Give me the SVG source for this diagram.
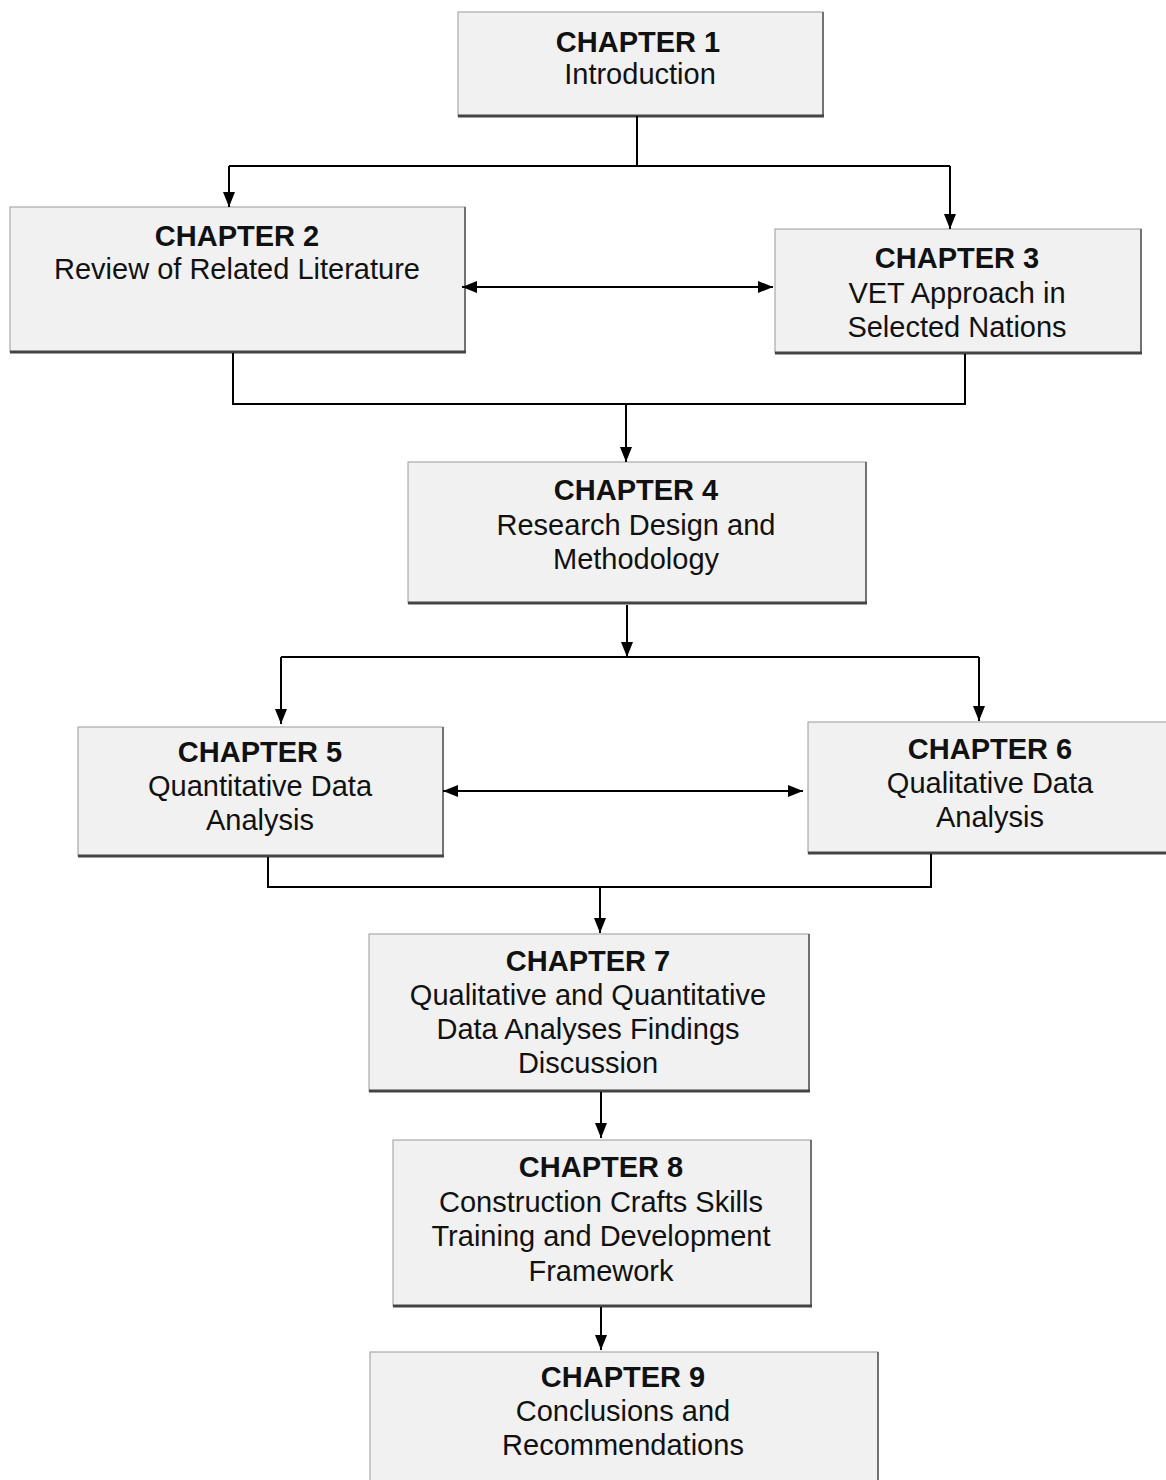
<svg xmlns="http://www.w3.org/2000/svg" width="1166" height="1480" viewBox="0 0 1166 1480">
<style>
.box{fill:#f1f1f1;stroke:#9a9a9a;stroke-width:1}
.sh{stroke:#444;stroke-width:3;fill:none}
.rs{stroke:#555;stroke-width:1.5;fill:none}
.t{font-family:"Liberation Sans",Arial,sans-serif;font-size:29px;fill:#111;text-anchor:middle}
.b{font-weight:bold}
.c{stroke:#000;stroke-width:2;fill:none}
</style>
<defs>
<marker id="ah" viewBox="0 0 15 12" refX="15" refY="6" markerWidth="15" markerHeight="12" markerUnits="userSpaceOnUse" orient="auto-start-reverse">
<path d="M0,0 L15,6 L0,12 Z" fill="#000"/>
</marker>
</defs>
<rect width="1166" height="1480" fill="#fff"/>
<g id="ch1">
<rect class="box" x="458" y="12" width="365" height="104"/>
<line class="rs" x1="823" y1="12" x2="823" y2="116"/>
<line class="sh" x1="458" y1="116" x2="824" y2="116"/>
<text class="t b" x="638" y="52">CHAPTER 1</text>
<text class="t" x="640" y="84">Introduction</text>
</g>
<g id="ch2">
<rect class="box" x="10" y="207" width="455" height="145"/>
<line class="rs" x1="465" y1="207" x2="465" y2="352"/>
<line class="sh" x1="10" y1="352" x2="466" y2="352"/>
<text class="t b" x="237" y="246">CHAPTER 2</text>
<text class="t" x="237" y="279">Review of Related Literature</text>
</g>
<g id="ch3">
<rect class="box" x="775" y="229" width="366" height="124"/>
<line class="rs" x1="1141" y1="229" x2="1141" y2="353"/>
<line class="sh" x1="775" y1="353" x2="1142" y2="353"/>
<text class="t b" x="957" y="268">CHAPTER 3</text>
<text class="t" x="957" y="303">VET Approach in</text>
<text class="t" x="957" y="337">Selected Nations</text>
</g>
<g id="ch4">
<rect class="box" x="408" y="462" width="458" height="141"/>
<line class="rs" x1="866" y1="462" x2="866" y2="603"/>
<line class="sh" x1="408" y1="603" x2="867" y2="603"/>
<text class="t b" x="636" y="500">CHAPTER 4</text>
<text class="t" x="636" y="535">Research Design and</text>
<text class="t" x="636" y="569">Methodology</text>
</g>
<g id="ch5">
<rect class="box" x="78" y="727" width="365" height="129"/>
<line class="rs" x1="443" y1="727" x2="443" y2="856"/>
<line class="sh" x1="78" y1="856" x2="444" y2="856"/>
<text class="t b" x="260" y="762">CHAPTER 5</text>
<text class="t" x="260" y="796">Quantitative Data</text>
<text class="t" x="260" y="830">Analysis</text>
</g>
<g id="ch6">
<rect class="box" x="808" y="722" width="370" height="131"/>
<line class="sh" x1="808" y1="853" x2="1166" y2="853"/>
<text class="t b" x="990" y="759">CHAPTER 6</text>
<text class="t" x="990" y="793">Qualitative Data</text>
<text class="t" x="990" y="827">Analysis</text>
</g>
<g id="ch7">
<rect class="box" x="369" y="934" width="440" height="157"/>
<line class="rs" x1="809" y1="934" x2="809" y2="1091"/>
<line class="sh" x1="369" y1="1091" x2="810" y2="1091"/>
<text class="t b" x="588" y="971">CHAPTER 7</text>
<text class="t" x="588" y="1005">Qualitative and Quantitative</text>
<text class="t" x="588" y="1039">Data Analyses Findings</text>
<text class="t" x="588" y="1073">Discussion</text>
</g>
<g id="ch8">
<rect class="box" x="393" y="1140" width="418" height="166"/>
<line class="rs" x1="811" y1="1140" x2="811" y2="1306"/>
<line class="sh" x1="393" y1="1306" x2="812" y2="1306"/>
<text class="t b" x="601" y="1177">CHAPTER 8</text>
<text class="t" x="601" y="1212">Construction Crafts Skills</text>
<text class="t" x="601" y="1246">Training and Development</text>
<text class="t" x="601" y="1281">Framework</text>
</g>
<g id="ch9">
<rect class="box" x="370" y="1352" width="508" height="140"/>
<line class="rs" x1="878" y1="1352" x2="878" y2="1480"/>
<text class="t b" x="623" y="1387">CHAPTER 9</text>
<text class="t" x="623" y="1421">Conclusions and</text>
<text class="t" x="623" y="1455">Recommendations</text>
</g>
<g id="connectors">
<path class="c" d="M637,116 V166"/>
<path class="c" d="M229,166 H950"/>
<path class="c" d="M229,166 V207" marker-end="url(#ah)"/>
<path class="c" d="M950,166 V229" marker-end="url(#ah)"/>
<path class="c" d="M462,287 H773" marker-start="url(#ah)" marker-end="url(#ah)"/>
<path class="c" d="M233,353 V404 H965 V354"/>
<path class="c" d="M626,404 V462" marker-end="url(#ah)"/>
<path class="c" d="M627,605 V657" marker-end="url(#ah)"/>
<path class="c" d="M281,657 H979"/>
<path class="c" d="M281,657 V724" marker-end="url(#ah)"/>
<path class="c" d="M979,657 V721" marker-end="url(#ah)"/>
<path class="c" d="M443,791 H803" marker-start="url(#ah)" marker-end="url(#ah)"/>
<path class="c" d="M268,857 V887 H931 V854"/>
<path class="c" d="M600,887 V933" marker-end="url(#ah)"/>
<path class="c" d="M601,1092 V1138" marker-end="url(#ah)"/>
<path class="c" d="M601,1307 V1350" marker-end="url(#ah)"/>
</g>
</svg>
